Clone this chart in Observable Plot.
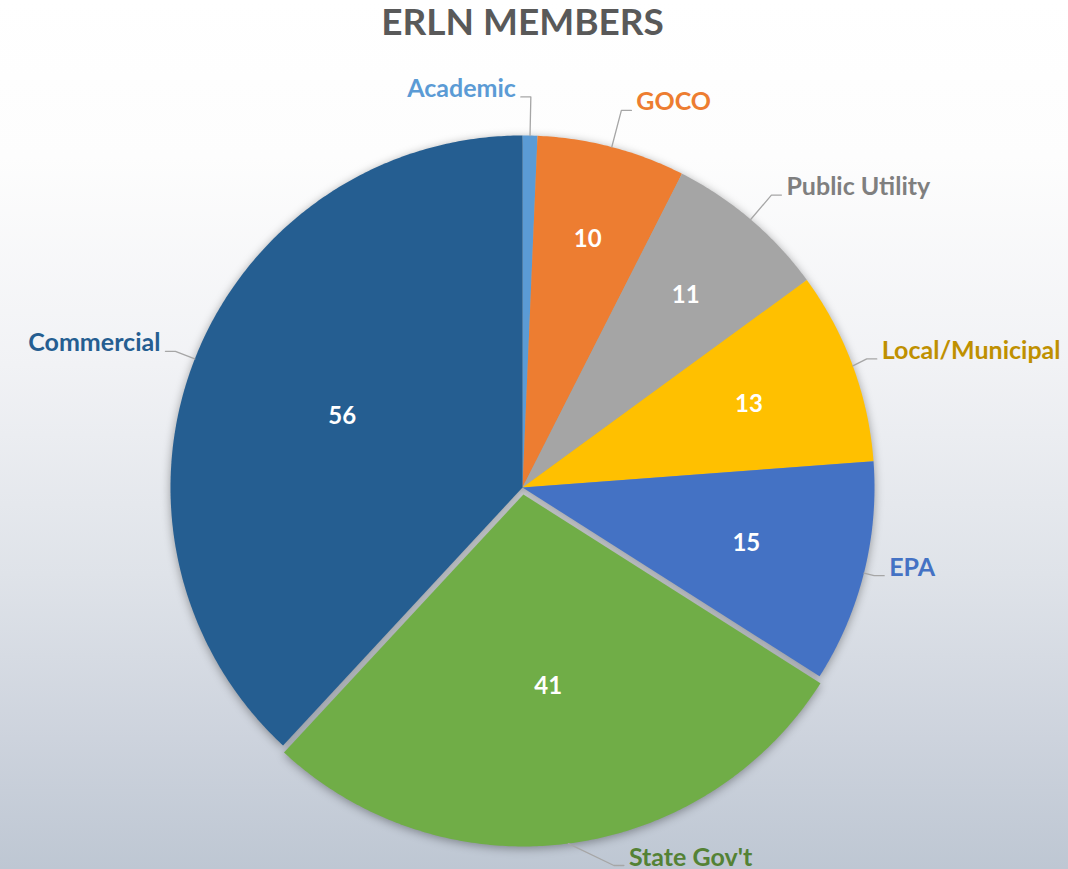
<!DOCTYPE html>
<html><head><meta charset="utf-8">
<script src="https://cdn.jsdelivr.net/npm/d3@7"></script>
<script src="https://cdn.jsdelivr.net/npm/@observablehq/plot@0.6"></script>
<style>
html,body{margin:0;padding:0;}
body{width:1068px;height:869px;overflow:hidden;
background:linear-gradient(to bottom,#ffffff 0%,#fdfdfd 18%,#f1f2f5 42%,#dfe3e9 66%,#cdd3dd 85%,#bec7d3 100%);}
#chart svg{display:block;}
</style></head><body><div id="chart"></div>
<script>
const title = "ERLN MEMBERS";
const categories = ["Academic","GOCO","Public Utility","Local/Municipal","EPA","State Gov't","Commercial"];
const values = [1,10,11,13,15,41,56];
const sliceColors = ["#5B9BD5","#ED7D31","#A5A5A5","#FFC000","#4472C4","#70AD47","#255E91"];
const labelColors = ["#5B9BD5","#ED7D31","#7F7F7F","#BF9000","#4472C4","#548235","#255E91"];
const explodedCategory = "State Gov't";

// layout
const W = 1068, H = 869;
const cx = 522, cy = 487, R = 352, explodeOffset = 7;
const FONT = "Lato, 'Open Sans', sans-serif";
const labelSize = 25, valueSize = 24, titleSize = 37;

const ctx = document.createElement("canvas").getContext("2d");
ctx.font = `bold ${labelSize}px Lato`;
const measure = s => ctx.measureText(s).width;

const total = d3.sum(values);
let acc = 0;
const slices = categories.map((cat, i) => {
  const a0 = acc / total * 2 * Math.PI;
  acc += values[i];
  const a1 = acc / total * 2 * Math.PI;
  const mid = (a0 + a1) / 2;
  const off = cat === explodedCategory ? explodeOffset : 0;
  return {cat, value: values[i], i, a0, a1, mid, ox: off * Math.sin(mid), oy: -off * Math.cos(mid)};
});

const pt = (s, r, a) => ({x: cx + s.ox + r * Math.sin(a), y: cy + s.oy - r * Math.cos(a)});

// slice polygons
const polys = [];
for (const s of slices) {
  polys.push({cat: s.cat, ...pt(s, 0, 0)});
  const n = Math.max(2, Math.ceil((s.a1 - s.a0) / (Math.PI / 360)));
  for (let k = 0; k <= n; k++) polys.push({cat: s.cat, ...pt(s, R, s.a0 + (s.a1 - s.a0) * k / n)});
}

// value labels (small slices sit further out)
const valueLabels = slices.filter(s => s.value / total > 0.02).map(s => {
  const frac = Math.max(0.55, 0.88 - 2.2 * s.value / total);
  return {text: String(s.value), ...pt(s, R * frac, s.mid)};
});

// outer labels with leaders
const leaders = [], outer = [];
for (const s of slices) {
  const right = Math.sin(s.mid) > 0.05;
  const dir = right ? 1 : -1;
  const edge = pt(s, R, s.mid);
  let elbow = pt(s, R * (1.03 + 0.08 * Math.abs(Math.cos(s.mid)) * (Math.cos(s.mid) > 0 || Math.cos(s.mid) < -0.9 ? 1 : 0)), s.mid);
  const tw = measure(s.cat);
  const maxY = H - 4;
  if (elbow.y > maxY) { elbow.x += dir * 2.5 * (elbow.y - maxY); elbow.y = maxY; }
  let tailX = elbow.x + dir * 10;
  let textX = tailX + dir * 5;
  if (right && textX + tw > W - 8) { const sh = textX + tw - (W - 8); textX -= sh; tailX -= sh; elbow.x -= sh; }
  if (!right && textX - tw < 6) { const sh = 6 - (textX - tw); textX += sh; tailX += sh; elbow.x += sh; }
  leaders.push({cat: s.cat, x: edge.x, y: edge.y}, {cat: s.cat, x: elbow.x, y: elbow.y}, {cat: s.cat, x: tailX, y: elbow.y});
  outer.push({text: s.cat, x: textX, y: elbow.y - 8, anchor: right ? "start" : "end", color: labelColors[s.i]});
}

const plot = Plot.plot({
  width: W, height: H,
  margin: 0,
  x: {domain: [0, W], range: [0, W], axis: null},
  y: {domain: [0, H], range: [0, H], axis: null},
  color: {domain: categories, range: sliceColors},
  style: {background: "transparent", overflow: "visible", fontFamily: FONT},
  marks: [
    Plot.line(polys, {x: "x", y: "y", z: "cat", fill: "cat", stroke: "none"}),
    Plot.line(leaders, {x: "x", y: "y", z: "cat", stroke: "#A6A6A6", strokeWidth: 1.3}),
    Plot.text(valueLabels, {x: "x", y: "y", text: "text", fill: "white", fontSize: valueSize, fontWeight: "bold"}),
    ...outer.map(o => Plot.text([o], {x: "x", y: "y", text: "text", textAnchor: o.anchor, fill: o.color, fontSize: labelSize, fontWeight: "bold"})),
    Plot.text([title], {x: () => cx, y: () => 23, text: d => d, fill: "#595959", fontSize: titleSize, fontWeight: "bold"})
  ]
});
document.getElementById("chart").appendChild(plot);
const g = plot.querySelector('g[aria-label="line"]');
if (g) g.style.filter = "drop-shadow(0px 2px 5px rgba(0,0,0,0.35))";
</script>
</body></html>
